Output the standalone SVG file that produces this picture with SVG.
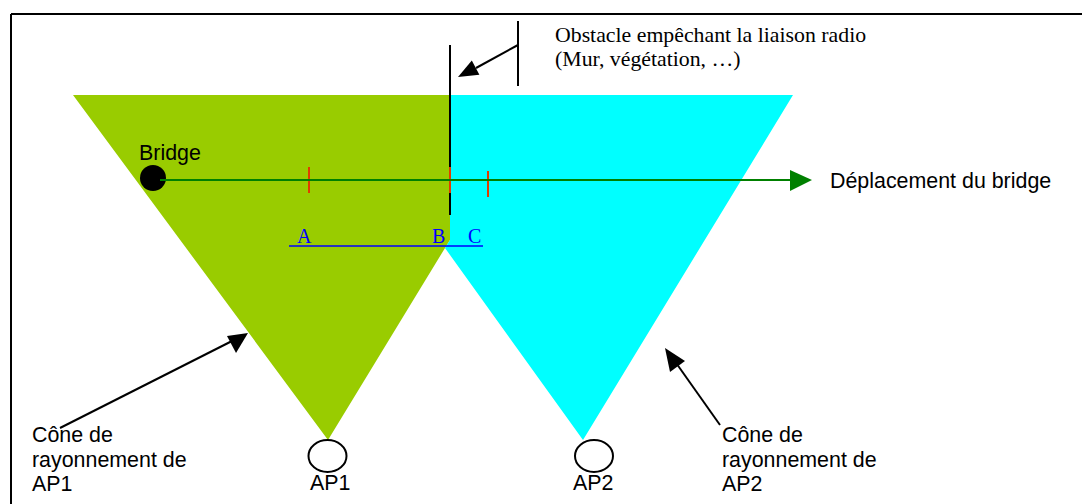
<svg xmlns="http://www.w3.org/2000/svg" width="1082" height="504" viewBox="0 0 1082 504">
<style>
.sans{font-family:"Liberation Sans",Arial,sans-serif;font-size:21.4px;fill:#000}
.serif{font-family:"Liberation Serif","Times New Roman",serif;font-size:21.8px;fill:#000}
.blue{font-family:"Liberation Serif","Times New Roman",serif;font-size:20px;fill:#0000ff}
.blk{stroke:#000;stroke-width:2;fill:none}
.tick{stroke:#e03c00;stroke-width:2}
</style>
<g id="frame">
<line x1="11" y1="14" x2="1082" y2="14" class="blk"/>
<line x1="11" y1="14" x2="11" y2="504" class="blk"/>
</g>
<g id="cone-ap1">
<polygon points="73,95 450,95 450,240 445,248 328,440" fill="#99cc00"/>
</g>
<g id="cone-ap2">
<polygon points="450,95 793,95 583,440 445,248 450,240" fill="#00ffff"/>
</g>
<g id="obstacle">
<line x1="450" y1="45" x2="450" y2="215" class="blk"/>
<line x1="518" y1="21" x2="518" y2="86" class="blk"/>
<text x="555" y="42" class="serif">Obstacle empêchant la liaison radio</text>
<text x="555" y="66" class="serif">(Mur, végétation, …)</text>
</g>
<g id="bridge">
<circle cx="153" cy="178" r="13" fill="#000"/>
<text x="139" y="160" class="sans">Bridge</text>
</g>
<g id="positions">
<line x1="309" y1="167" x2="309" y2="193" class="tick"/>
<line x1="450" y1="167" x2="450" y2="193" class="tick"/>
<line x1="488" y1="171" x2="488" y2="197" class="tick"/>
<line x1="289" y1="246" x2="483" y2="246" stroke="#0000ff" stroke-width="1.5"/>
<text x="297" y="243" class="blue">A</text>
<text x="432" y="243" class="blue">B</text>
<text x="468" y="243" class="blue">C</text>
</g>
<g id="ap1">
<ellipse cx="327.5" cy="456" rx="19" ry="16" fill="#fff" stroke="#000" stroke-width="2"/>
<text x="310" y="490" class="sans">AP1</text>
</g>
<g id="ap2">
<ellipse cx="594" cy="456" rx="19" ry="16" fill="#fff" stroke="#000" stroke-width="2"/>
<text x="573" y="490" class="sans">AP2</text>
</g>
<g id="label-ap1">
<text x="32" y="442" class="sans">Cône de</text>
<text x="32" y="467" class="sans">rayonnement de</text>
<text x="32" y="491" class="sans">AP1</text>
</g>
<g id="label-ap2">
<text x="722" y="442" class="sans">Cône de</text>
<text x="722" y="467" class="sans">rayonnement de</text>
<text x="722" y="491" class="sans">AP2</text>
</g>
<g id="move-label">
<text x="830" y="188" class="sans">Déplacement du bridge</text>
</g>
<g id="connectors">
<line x1="160" y1="180" x2="792" y2="180" stroke="#008000" stroke-width="2"/>
<polygon points="790,170 812,180 790,191" fill="#008000"/>
<line x1="518" y1="45" x2="476" y2="68" stroke="#000" stroke-width="2"/>
<polygon points="458,77 479.4,74.7 471.8,60.5" fill="#000"/>
<line x1="60" y1="428" x2="234" y2="340" stroke="#000" stroke-width="2"/>
<polygon points="248,333 236,353 227,336" fill="#000"/>
<line x1="720" y1="425" x2="674" y2="360" stroke="#000" stroke-width="2"/>
<polygon points="665,348 685,361 670,372" fill="#000"/>
</g>
</svg>
